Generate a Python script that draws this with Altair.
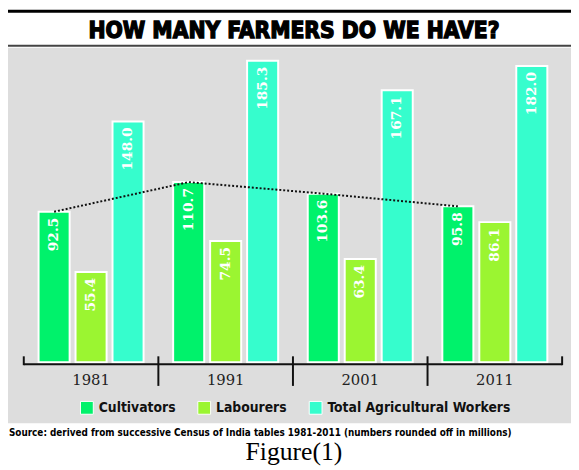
import altair as alt
import pandas as pd

# ---- data ----
years = ["1981", "1991", "2001", "2011"]
categories = ["Cultivators", "Labourers", "Total Agricultural Workers"]
cultivators = [92.5, 110.7, 103.6, 95.8]
labourers = [55.4, 74.5, 63.4, 86.1]
total_workers = [148.0, 185.3, 167.1, 182.0]
colors = ["#00F26B", "#9BF531", "#36FDCD"]
title_text = "HOW MANY FARMERS DO WE HAVE?"
source_text = ("Source: derived from successive Census of India tables 1981-2011 "
               "(numbers rounded off in millions)")
caption_text = "Figure(1)"

series = {"Cultivators": cultivators, "Labourers": labourers,
          "Total Agricultural Workers": total_workers}
rows = []
for i, yr in enumerate(years):
    for cat in categories:
        rows.append({"year": yr, "category": cat, "value": series[cat][i]})
df = pd.DataFrame(rows)

one = pd.DataFrame({"k": [0]})

W, H = 546, 319
SANS = "DejaVu Sans Condensed"
SERIF = "DejaVu Serif"

xscale = alt.Scale(type="band", domain=years, paddingInner=0, paddingOuter=0)
xoff = alt.Scale(domain=categories, paddingInner=0.16, paddingOuter=0.4)
yscale = alt.Scale(domain=[0, 193.3], nice=False, zero=True)

X = alt.X("year:N", scale=xscale, axis=None)
XO = alt.XOffset("category:N", scale=xoff)
Y = alt.Y("value:Q", scale=yscale, axis=None)

base_one = alt.Chart(one)

panel = base_one.mark_rect(color="#DDDDDD").encode(
    x=alt.value(-18), x2=alt.value(560), y=alt.value(0), y2=alt.value(381))
top_rule = base_one.mark_rule(color="black", strokeWidth=3).encode(
    x=alt.value(-18), x2=alt.value(560), y=alt.value(-37))
title_rule = base_one.mark_rule(color="#444444", strokeWidth=2).encode(
    x=alt.value(-18), x2=alt.value(560), y=alt.value(-2))
title = base_one.mark_text(
    text=title_text, font=SANS, fontSize=23, fontWeight="bold",
    color="black", stroke="black", strokeWidth=1.3,
    align="center", baseline="alphabetic").encode(
    x=alt.value(274), y=alt.value(-10))
source = base_one.mark_text(
    text=source_text, font=SANS, fontSize=10, fontWeight="bold",
    color="black", align="left", baseline="alphabetic").encode(
    x=alt.value(-15), y=alt.value(394))
caption = base_one.mark_text(
    text=caption_text, font="Liberation Serif", fontSize=26,
    color="black", align="center", baseline="alphabetic").encode(
    x=alt.value(274), y=alt.value(418))

base = alt.Chart(df)

bars = base.mark_bar(stroke="white", strokeWidth=2).encode(
    x=X, xOffset=XO, y=Y,
    color=alt.Color("category:N",
                    scale=alt.Scale(domain=categories, range=colors),
                    legend=alt.Legend(
                        orient="none", legendX=57, legendY=358,
                        direction="horizontal", title=None,
                        symbolType="square", symbolSize=169,
                        symbolStrokeColor="white", symbolStrokeWidth=1,
                        labelFont=SANS, labelFontSize=14,
                        labelFontWeight="bold", labelColor="#111111",
                        labelLimit=400,
                        labelOffset=5, columnPadding=20, padding=0)))

labels = base.mark_text(
    angle=270, align="right", baseline="middle", dx=-6,
    font=SERIF, fontSize=14, fontWeight="bold", color="white").encode(
    x=X, xOffset=XO, y=Y, text=alt.Text("value:Q", format=".1f"))

trend = base.transform_filter(alt.datum.category == "Cultivators").mark_line(
    color="#111111", strokeWidth=2, strokeDash=[2, 2]).encode(
    x=X, xOffset=XO, y=Y)

axis_line = base_one.mark_rule(color="#111111", strokeWidth=2).encode(
    x=alt.value(0), x2=alt.value(W), y=alt.value(H + 2))

ydf = pd.DataFrame({"year": years})
dividers = alt.Chart(ydf[1:]).mark_rule(color="#111111", strokeWidth=2).encode(
    x=alt.X("year:N", scale=xscale, axis=None, bandPosition=0),
    y=alt.value(H - 6), y2=alt.value(H + 24))
left_tick = alt.Chart(ydf[:1]).mark_rule(color="#111111", strokeWidth=2).encode(
    x=alt.X("year:N", scale=xscale, axis=None, bandPosition=0),
    y=alt.value(H - 6), y2=alt.value(H + 3))
right_tick = alt.Chart(ydf[3:]).mark_rule(color="#111111", strokeWidth=2).encode(
    x=alt.X("year:N", scale=xscale, axis=None, bandPosition=1),
    y=alt.value(H - 6), y2=alt.value(H + 3))
year_labels = alt.Chart(ydf).mark_text(
    font=SERIF, fontSize=15, color="#222222", baseline="alphabetic").encode(
    x=alt.X("year:N", scale=xscale, axis=None), y=alt.value(H + 23),
    text="year:N")

chart = alt.layer(
    panel, top_rule, title_rule, title, source, caption,
    bars, labels, trend, axis_line, dividers, left_tick, right_tick,
    year_labels
).properties(
    width=W, height=H,
    autosize=alt.AutoSizeParams(type="none"),
    padding={"left": 16, "top": 37, "right": 9, "bottom": 104},
    background="white",
).configure_view(stroke=None)

chart.save("out.html", embed_options={"renderer": "svg", "actions": False})
